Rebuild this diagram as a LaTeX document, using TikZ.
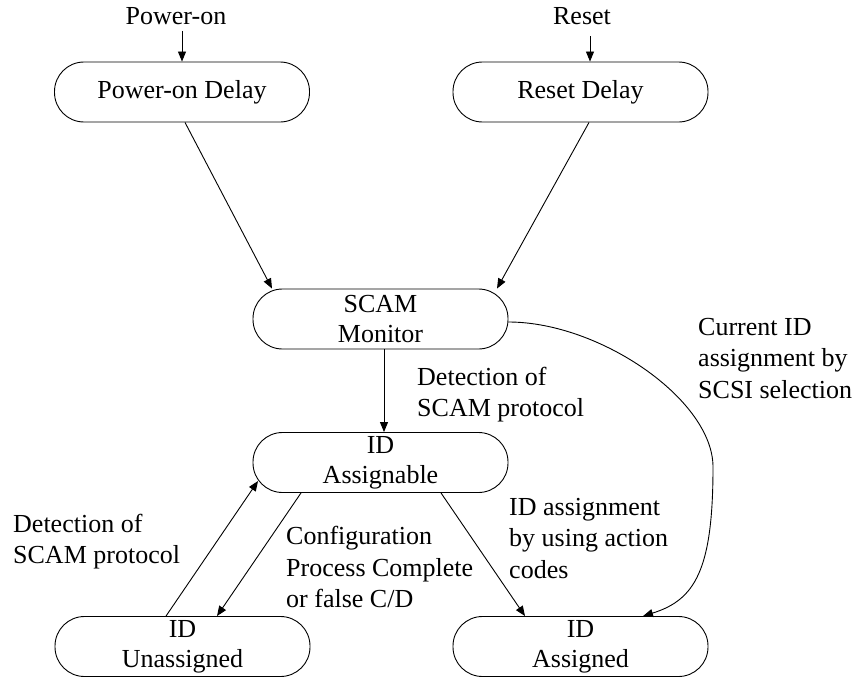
\documentclass[tikz,border=0pt]{standalone}
\usepackage{fontspec}
\setmainfont{Liberation Serif}
\usetikzlibrary{arrows.meta}
\begin{document}
\begin{tikzpicture}[x=1pt,y=-1pt,
  state/.style={draw, line width=0.9pt, rounded corners=29.5pt, minimum width=255pt, minimum height=60pt, inner sep=0pt, align=center, font=\fontsize{26}{30}\selectfont},
  lbl/.style={inner sep=0pt, align=left, anchor=base west, font=\fontsize{26}{31.5}\selectfont},
  arr/.style={line width=0.9pt, -{Triangle[length=10pt,width=8pt]}},
]
\useasboundingbox (0,0) rectangle (856,677);
\node[state] (pod) at (182,92) {Power-on Delay};
\node[state] (rd) at (580.5,92) {Reset Delay};
\node[state] (scam) at (380.5,319) {SCAM\\Monitor};
\node[state] (asg) at (380.5,462.5) {ID\\Assignable};
\node[state] (una) at (182.5,646.5) {ID\\Unassigned};
\node[state] (ass) at (580.5,646.5) {ID\\Assigned};

\node[lbl, anchor=base] (pon) at (176,25) {Power-on};
\node[lbl, anchor=base] (rst) at (582,25) {Reset};

% anchor base west = baseline of the last line
\node[lbl] (l1) at (417,416.5) {Detection of\\SCAM protocol};
\node[lbl] (l2) at (698,398) {Current ID\\assignment by\\SCSI selection};
\node[lbl] (l3) at (13,563.5) {Detection of\\SCAM protocol};
\node[lbl] (l4) at (286,607.5) {Configuration\\Process Complete\\or false C/D};
\node[lbl] (l5) at (509,578) {ID assignment\\by using action\\codes};

\coordinate (rin) at ([xshift=9.5pt]rd.north);
\draw[arr] ([yshift=-5.4pt]pon.south -| pod.north) -- (pod.north);
\draw[arr] ([yshift=-11pt]rst.south -| rin) -- (rin);

\draw[arr] ([xshift=3pt]pod.south) -- ([xshift=-108.5pt]scam.north);
\draw[arr] ([xshift=8.5pt]rd.south) -- ([xshift=116.5pt]scam.north);
\draw[arr] ([xshift=3.5pt]scam.south) -- ([xshift=3.5pt]asg.north);
\draw[arr] ([xshift=-79.5pt]asg.south) -- ([xshift=34.5pt]una.north);
\draw[arr] ([xshift=-16.5pt]una.north) -- ([xshift=-122.5pt,yshift=-18.5pt]asg.center);
\draw[arr] ([xshift=60.5pt]asg.south) -- ([xshift=-55.5pt]ass.north);
\coordinate (cv) at (713,467);
\draw[arr] ([yshift=-3pt]scam.east) .. controls (600,322) and (713,400) .. (cv)
  .. controls (713,570) and (695,600) .. ([xshift=62.5pt]ass.north);
\end{tikzpicture}
\end{document}
